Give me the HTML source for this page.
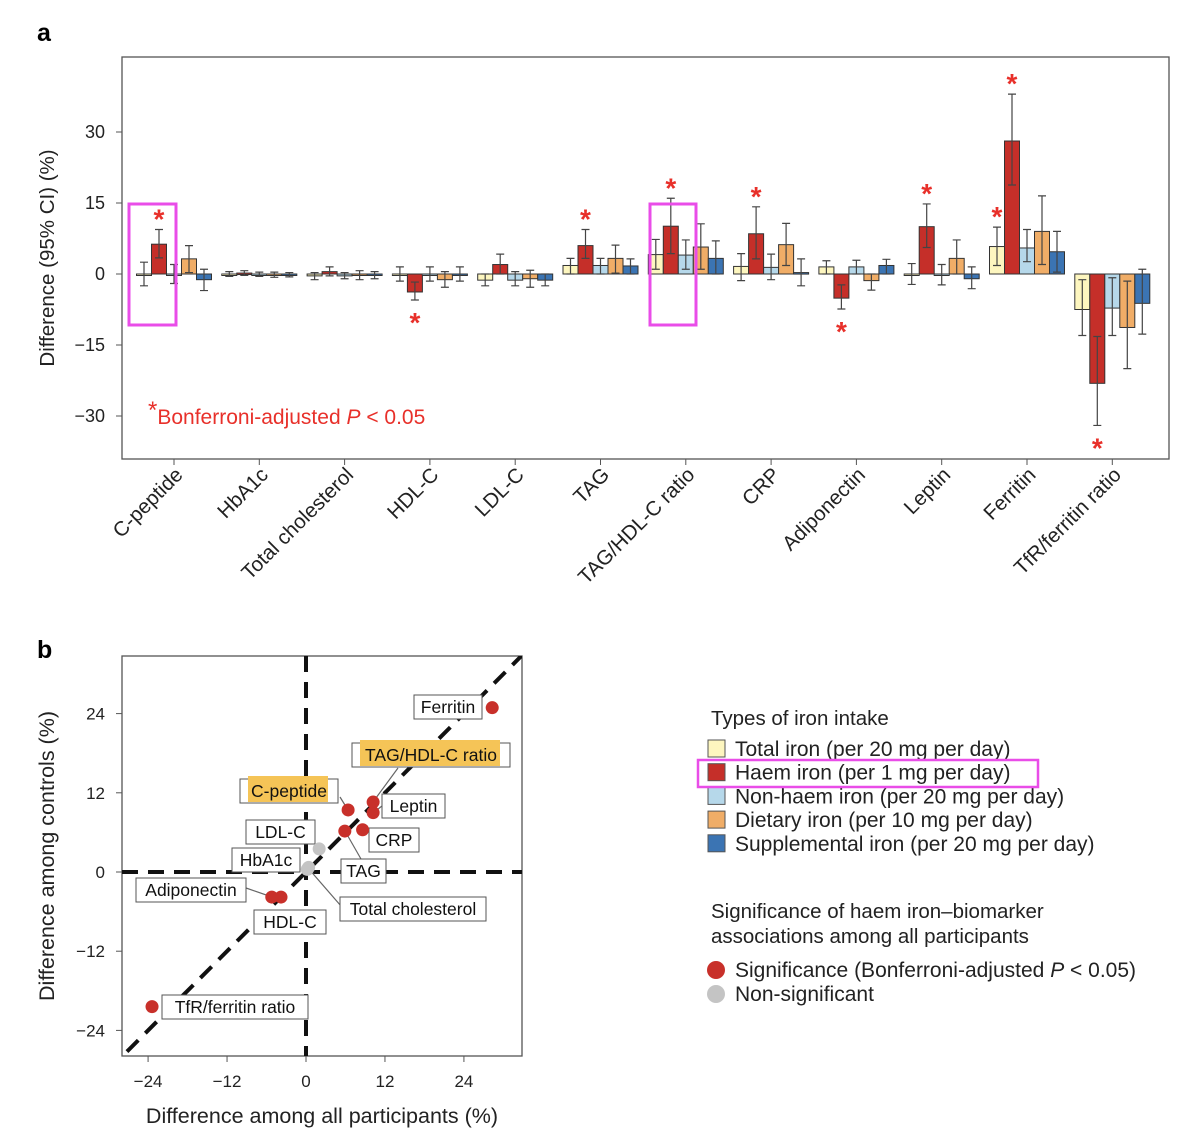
<!DOCTYPE html>
<html><head><meta charset="utf-8"><style>
body{margin:0;background:#fff;}
svg{display:block;font-family:"Liberation Sans",sans-serif;}
</style></head><body>
<svg id="root" width="1200" height="1134" viewBox="0 0 1200 1134">
<text x="37" y="41" font-size="25" font-weight="bold">a</text>
<text x="37" y="658" font-size="25" font-weight="bold">b</text>
<g id="pa"></g>
<g id="pb"></g>
<g id="lg"></g>
</svg>
<script>
const categories=["C-peptide","HbA1c","Total cholesterol","HDL-C","LDL-C","TAG","TAG/HDL-C ratio","CRP","Adiponectin","Leptin","Ferritin","TfR/ferritin ratio"];
const seriesNames=["Total iron (per 20 mg per day)","Haem iron (per 1 mg per day)","Non-haem iron (per 20 mg per day)","Dietary iron (per 10 mg per day)","Supplemental iron (per 20 mg per day)"];
const totalVals=[0,0,-0.4,0,-1.3,1.8,4.1,1.6,1.5,0,5.8,-7.5];
const totalLo=[-2.5,-0.5,-1.2,-1.5,-2.5,0,1,-1.4,0,-2.2,1.8,-13];
const totalHi=[2.5,0.5,0.3,1.5,0,3.3,7.3,4.3,2.8,2.2,9.9,-1.2];
const haemVals=[6.3,0.2,0.5,-3.8,2,6,10.1,8.5,-5.1,10,28.1,-23.1];
const haemLo=[3.4,-0.3,-0.4,-5.5,0,3.3,4.3,3.2,-7.4,5.6,18.8,-32];
const haemHi=[9.4,0.7,1.5,-1.7,4.2,9.4,16,14.2,-2.3,14.8,38,-13.2];
const nonhaemVals=[-0.3,-0.1,-0.4,0,-1.3,1.8,4,1.4,1.5,-0.2,5.5,-7.2];
const nonhaemLo=[-2,-0.5,-1,-1.5,-2.5,0,1,-1.2,0,-2.3,2.6,-13];
const nonhaemHi=[2,0.4,0.3,1.5,0.5,3.3,7.2,4.2,2.9,2,9.4,-0.8];
const dietVals=[3.2,-0.2,-0.3,-1.2,-1,3.3,5.7,6.2,-1.4,3.3,9,-11.3];
const dietLo=[0.3,-0.7,-1.2,-2.8,-2.8,0.2,1,1.8,-3.4,0,2,-20];
const dietHi=[6,0.4,0.7,0.5,0.8,6.1,10.6,10.7,0,7.2,16.5,-1.5];
const suppVals=[-1.2,-0.2,-0.3,0,-1.3,1.7,3.3,0.3,1.8,-1,4.7,-6.2];
const suppLo=[-3.5,-0.6,-1,-1.5,-2.5,0,0,-2.5,0,-3.1,0.4,-12.7];
const suppHi=[1,0.3,0.5,1.5,0,3.2,7,3.2,3.1,1.5,9,1];
const sigHaem=[1,0,0,1,0,1,1,1,1,1,1,1];
const sigTotal=[0,0,0,0,0,0,0,0,0,0,1,0];
const yTicksA=[30,15,0,-15,-30];
const colors=["#fdf6bf","#c52f29","#b6d8ea","#f0ad67","#3b74b3"];

const NS="http://www.w3.org/2000/svg";
function mk(parent,tag,attrs,text){const e=document.createElementNS(NS,tag);for(const k in attrs)e.setAttribute(k,attrs[k]);if(text!==undefined)e.textContent=text;parent.appendChild(e);return e;}

// Panel a
const pa=document.getElementById('pa');
const ya=v=>274-v*4.733;
const cx=i=>174+i*85.3;
const BW=15;
let el=mk(pa,'rect',{x:122,y:57,width:1047,height:402,fill:'none',stroke:'#555','stroke-width':1.3});


yTicksA.forEach(t=>{
  let tk=mk(pa,'line',{x1:116,x2:122,y1:ya(t),y2:ya(t),stroke:'#555'});
  
  
  let tl=mk(pa,'text',{x:105,y:ya(t)+6,'font-size':18,'text-anchor':'end',fill:'#222'},String(t).replace('-','−'));
  
  
});
el=mk(pa,'text',{x:0,y:0,'font-size':20.5,'text-anchor':'middle',transform:'translate(54,258) rotate(-90)',fill:'#222'},'Difference (95% CI) (%)');


const S=[[totalVals,totalLo,totalHi],[haemVals,haemLo,haemHi],[nonhaemVals,nonhaemLo,nonhaemHi],[dietVals,dietLo,dietHi],[suppVals,suppLo,suppHi]];
categories.forEach((c,i)=>{
  const x0=cx(i);
  let tk=mk(pa,'line',{x1:x0,x2:x0,y1:459,y2:465,stroke:'#555'});
  
  
  let lab=mk(pa,'text',{x:0,y:0,'font-size':20.5,'text-anchor':'end',fill:'#222',transform:`translate(${x0+10},${476}) rotate(-45)`},c);
  
  
  S.forEach((s,j)=>{
    const bx=x0+(j-2.5)*BW, v=s[0][i];
    const y1=ya(Math.max(v,0)), y2=ya(Math.min(v,0));
    let r=mk(pa,'rect',{x:bx,y:y1,width:BW,height:Math.max(y2-y1,1.5),fill:colors[j],stroke:'#333','stroke-width':1});
    
    
    const ex=bx+BW/2, lo=ya(s[1][i]), hi=ya(s[2][i]);
    let eb=mk(pa,'path',{d:`M${ex},${lo}V${hi}M${ex-4},${lo}H${ex+4}M${ex-4},${hi}H${ex+4}`,stroke:'#444','stroke-width':1.2,fill:'none'});
    
    
  });
  [[sigTotal,0],[sigHaem,1]].forEach(([sg,j])=>{
    if(!sg[i])return;
    const s=S[j], ex=x0+(j-2)*BW;
    const yy=s[0][i]>=0?ya(s[2][i])-14:ya(s[1][i])+19;
    let a=mk(pa,'text',{x:ex,y:yy+13,'font-size':28,'text-anchor':'middle',fill:'#e8302a','font-weight':'bold'},'*');
    
    
  });
});
[[129,204,47,121],[650,204,46,121]].forEach(b=>{
  let h=mk(pa,'rect',{x:b[0],y:b[1],width:b[2],height:b[3],fill:'none',stroke:'#e94de8','stroke-width':3});
  
  
});
el=mk(pa,'text',{x:148,y:424,'font-size':21,fill:'#e8302a'});


el.innerHTML='<tspan font-size="24" dy="-6">*</tspan><tspan dy="6">Bonferroni-adjusted </tspan><tspan font-style="italic">P</tspan><tspan> &lt; 0.05</tspan>';

// Panel b
const pointNames=["Ferritin","TAG/HDL-C ratio","Leptin","C-peptide","TAG","CRP","LDL-C","HbA1c","Total cholesterol","Adiponectin","HDL-C","TfR/ferritin ratio"];
const allVals=[28.3,10.2,10.2,6.4,5.9,8.6,2.0,0.2,0.4,-5.2,-3.8,-23.4];
const ctrlVals=[24.9,10.6,9.0,9.4,6.2,6.4,3.5,0.4,0.7,-3.8,-3.8,-20.4];
const pointSig=[1,1,1,1,1,1,0,0,0,1,1,1];
const xTicksB=[-24,-12,0,12,24];
const yTicksB=[24,12,0,-12,-24];
const pb=document.getElementById('pb');
const xb=v=>306+v*6.58, yb=v=>872-v*6.6;
el=mk(pb,'rect',{x:122,y:656,width:400,height:400,fill:'none',stroke:'#555','stroke-width':1.3});


const clip=mk(pb,'clipPath',{id:'cb'});mk(clip,'rect',{x:122,y:656,width:400,height:400});
const g=mk(pb,'g',{'clip-path':'url(#cb)'});
mk(g,'line',{x1:xb(0),x2:xb(0),y1:656,y2:1056,stroke:'#111','stroke-width':4,'stroke-dasharray':'16,10'});
mk(g,'line',{x1:122,x2:522,y1:yb(0),y2:yb(0),stroke:'#111','stroke-width':4,'stroke-dasharray':'16,10'});
mk(g,'line',{x1:xb(-30),x2:xb(34),y1:yb(-30),y2:yb(34),stroke:'#111','stroke-width':4,'stroke-dasharray':'16,10'});
xTicksB.forEach(t=>{
  mk(pb,'line',{x1:xb(t),x2:xb(t),y1:1056,y2:1062,stroke:'#555'});
  let l=mk(pb,'text',{x:xb(t),y:1087,'font-size':17,'text-anchor':'middle',fill:'#222'},String(t).replace('-','−'));
  
  
});
yTicksB.forEach(t=>{
  mk(pb,'line',{x1:116,x2:122,y1:yb(t),y2:yb(t),stroke:'#555'});
  let l=mk(pb,'text',{x:105,y:yb(t)+6,'font-size':17,'text-anchor':'end',fill:'#222'},String(t).replace('-','−'));
  
  
});
el=mk(pb,'text',{x:322,y:1123,'font-size':21.5,'text-anchor':'middle',fill:'#222'},'Difference among all participants (%)');


el=mk(pb,'text',{x:0,y:0,'font-size':21.5,'text-anchor':'middle',transform:'translate(54,856) rotate(-90)',fill:'#222'},'Difference among controls (%)');


[[398,768,373,802],[340,797,348,810],[361,859,345,831],[246,888,272,897],[341,906,308,868],[382,806,373,813]].forEach(l=>{
  mk(pb,'line',{x1:l[0],y1:l[1],x2:l[2],y2:l[3],stroke:'#666','stroke-width':1.2});
});
const labelBoxes=[["Ferritin",414,695,68,0],["TAG/HDL-C ratio",352,743,158,1],["C-peptide",240,779,98,1],["Leptin",382,794,63,0],["LDL-C",246,820,69,0],["CRP",369,828,50,0],["HbA1c",232,848,68,0],["TAG",341,859,45,0],["Adiponectin",136,878,110,0],["Total cholesterol",340,897,146,0],["HDL-C",254,910,72,0],["TfR/ferritin ratio",162,995,146,0]];
labelBoxes.forEach(b=>{
  const gg=mk(pb,'g',{});
  
  
  mk(gg,'rect',{x:b[1],y:b[2],width:b[3],height:24,fill:'#fff',stroke:'#555','stroke-width':1});
  if(b[4])mk(gg,'rect',{x:b[1]+8,y:b[2]-3,width:b[3]-18,height:26,fill:'#f5c457'});
  mk(gg,'text',{x:b[1]+b[3]/2,y:b[2]+18,'font-size':17.5,'text-anchor':'middle',fill:'#111'},b[0]);
});
pointNames.forEach((n,i)=>{
  let c=mk(pb,'circle',{cx:xb(allVals[i]),cy:yb(ctrlVals[i]),r:6.5,fill:pointSig[i]?'#c8302a':'#c4c4c4'});
  
  
});

// Legend
const lg=document.getElementById('lg');
el=mk(lg,'text',{x:711,y:725,'font-size':20.5,fill:'#222'},'Types of iron intake');


seriesNames.forEach((n,j)=>{
  const y=749+j*23.7;
  const gg=mk(lg,'g',{});
  
  
  mk(gg,'rect',{x:708,y:y-9,width:17,height:17,fill:colors[j],stroke:'#555','stroke-width':1});
  mk(gg,'text',{x:735,y:y+7,'font-size':21,fill:'#222'},n);
});
el=mk(lg,'rect',{x:698,y:760,width:340,height:27,fill:'none',stroke:'#e94de8','stroke-width':2.5});


mk(lg,'text',{x:711,y:918,'font-size':20.5,fill:'#222'},'Significance of haem iron–biomarker');
mk(lg,'text',{x:711,y:943,'font-size':20.5,fill:'#222'},'associations among all participants');
mk(lg,'circle',{cx:716,cy:970,r:9,fill:'#c8302a'});
el=mk(lg,'text',{x:735,y:977,'font-size':21,fill:'#222'});
el.innerHTML='Significance (Bonferroni-adjusted <tspan font-style="italic">P</tspan> &lt; 0.05)';


mk(lg,'circle',{cx:716,cy:994,r:9,fill:'#c4c4c4'});
el=mk(lg,'text',{x:735,y:1001,'font-size':21,fill:'#222'},'Non-significant');


</script>
</body></html>
